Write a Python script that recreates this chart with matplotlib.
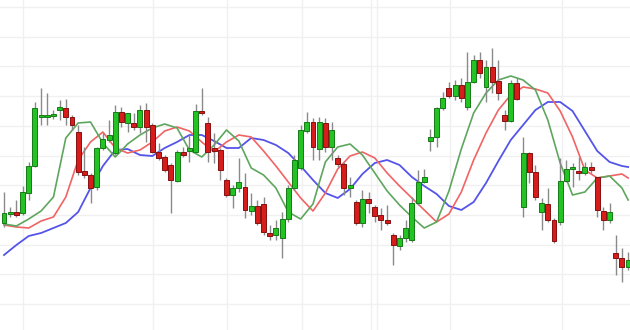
import numpy as np
import matplotlib
matplotlib.use("Agg")
import matplotlib.pyplot as plt

# ---- candle data (arbitrary price units) ----
opens  = [107,116,118,117,137,164,213,213,214,220,222,213,198,159,155,143,182,190,177,218,
          207,207,203,220,205,178,173,165,149,178,179,178,219,207,182,180,150,135,142,143,
          119,124,126,97,95,92,111,142,162,199,208,181,207,183,172,166,142,128,107,131,
          123,115,110,95,84,92,90,127,148,189,193,222,242,234,245,223,248,270,243,263,
          249,215,209,247,123,177,158,118,126,110,108,149,161,159,157,163,153,119,110,77,
          72,63]
closes = [117,118,115,138,164,222,215,215,216,223,213,205,158,155,142,182,191,195,218,208,
          217,203,220,203,178,172,160,150,178,175,182,219,217,178,179,160,135,142,148,120,
          124,107,98,94,102,111,142,170,200,208,183,208,183,200,166,142,145,107,131,127,
          114,110,107,85,92,102,127,148,153,193,222,232,234,245,232,248,270,257,263,248,
          237,209,247,231,177,158,133,127,110,89,149,161,163,157,163,160,120,110,118,72,
          63,70]
highs  = [138,123,130,144,168,228,242,237,220,230,231,215,205,183,157,183,197,210,225,223,
          217,217,225,227,207,187,175,167,180,183,195,226,242,213,197,182,152,145,172,157,
          137,130,133,105,110,118,145,175,205,218,212,213,212,208,175,168,153,130,140,138,
          125,122,125,97,95,110,133,160,161,201,223,238,248,250,252,278,275,278,270,282,
          270,220,250,252,193,178,165,132,142,112,172,170,167,173,168,168,153,123,127,95,
          82,78]
lows   = [103,113,113,115,130,163,205,205,211,210,205,200,155,152,127,140,180,188,175,203,
          198,200,197,188,177,170,158,117,148,173,168,177,215,168,167,150,133,122,138,112,
          115,105,95,90,90,72,108,140,160,197,170,170,178,170,163,135,133,105,103,117,
          108,100,105,65,80,88,88,125,147,179,183,220,232,230,228,220,247,252,228,237,
          230,200,208,230,113,147,130,100,108,87,105,148,143,150,155,157,113,100,107,55,
          48,60]

# ---- three moving-average lines, sampled every second candle (+ last) ----
blue_line  = [75,85,94,97,102,107,118,142,164,180,181,175,174,182,188,195,195,189,182,182,
              192,190,185,177,164,150,137,132,141,156,167,170,165,153,144,136,124,120,128,147,
              169,190,205,220,228,228,219,199,179,168,164,163]
red_line   = [105,103,102,109,113,133,170,188,198,182,177,180,188,199,203,199,188,178,188,195,
              193,179,164,148,132,119,137,161,174,178,172,157,144,132,120,108,116,138,170,197,
              220,235,243,241,237,219,193,160,152,154,156,152]
green_line = [106,104,111,119,133,192,207,208,187,173,186,195,202,206,202,180,173,185,200,189,
              162,155,142,118,111,126,168,183,186,175,157,139,125,113,102,108,139,181,217,237,
              250,254,250,240,210,167,135,138,152,154,142,130]

n = len(opens)
idx = np.arange(n)
line_idx = np.r_[np.arange(0, n - 1, 2), n - 1]

fig = plt.figure(figsize=(6.3, 3.3), dpi=100)
ax = fig.add_axes([0, 0, 1, 1])
ax.set_xlim(-0.65, n - 0.7)
ax.set_ylim(0, 330)
for s in ax.spines.values():
    s.set_visible(False)
ax.set_xticks([])
ax.set_yticks([])

# grid
grid_c = "#f0f0f0"
for gy in np.arange(26, 330, 29.7):
    ax.axhline(gy, color=grid_c, lw=1.0, zorder=0)
for gx in [3.1, 24.1, 36.1, 48.2, 59.4, 60.3, 72.2, 90.3]:
    ax.axvline(gx, color=grid_c, lw=1.0, zorder=0)

# lines
ax.plot(line_idx, blue_line, color="#5454ea", lw=1.3, zorder=2, solid_joinstyle="round")
ax.plot(line_idx, red_line, color="#f06464", lw=1.2, zorder=2, solid_joinstyle="round")
ax.plot(line_idx, green_line, color="#5ea65e", lw=1.2, zorder=2, solid_joinstyle="round")

# candles
o = np.array(opens, float); c = np.array(closes, float)
h = np.array(highs, float); l = np.array(lows, float)
up = c >= o
ax.vlines(idx, l, h, color="#8a8a8a", lw=1.0, zorder=3)
bottom = np.minimum(o, c)
height = np.maximum(np.abs(c - o), 1.5)
ax.bar(idx[up], height[up], bottom=bottom[up], width=0.8,
       color="#22c322", edgecolor="#167a16", linewidth=0.7, zorder=4)
ax.bar(idx[~up], height[~up], bottom=bottom[~up], width=0.8,
       color="#d71c1c", edgecolor="#861010", linewidth=0.7, zorder=4)

fig.savefig("out.png", dpi=100, facecolor="white")
